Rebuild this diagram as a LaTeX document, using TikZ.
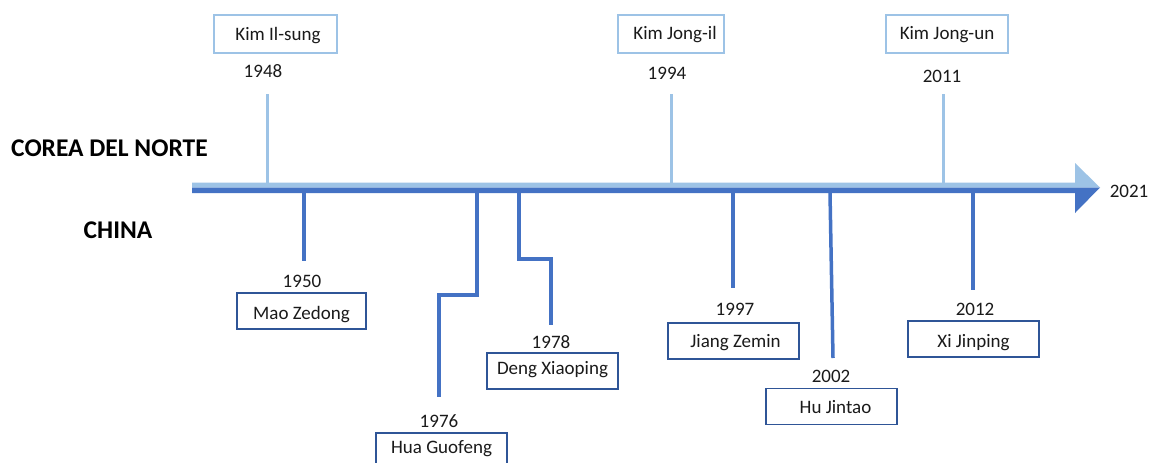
\documentclass[tikz,border=0pt]{standalone}
\usepackage{fontspec}
\setmainfont{Carlito}
\definecolor{lightb}{HTML}{9DC3E6}
\definecolor{darkb}{HTML}{4472C4}
\definecolor{boxb}{HTML}{2F5597}
\definecolor{txt}{HTML}{1A1A1A}
\begin{document}
\begin{tikzpicture}[x=1pt,y=-1pt,
  lbl/.style={inner sep=0pt,text=txt,font=\fontsize{19}{23}\selectfont},
  country/.style={inner sep=0pt,text=black,font=\fontsize{25.5}{30}\selectfont\bfseries},
  topbox/.style={draw=lightb,line width=1.8pt,minimum height=38pt,inner sep=0pt,text=txt,font=\fontsize{19}{23}\selectfont},
  botbox/.style={draw=boxb,line width=1.6pt,minimum width=130pt,minimum height=36pt,inner sep=0pt,text=txt,font=\fontsize{19}{23}\selectfont},
  bl/.style={text height=#1,text depth=0pt},
  lightstem/.style={draw=lightb,line width=3pt},
  darkstem/.style={draw=darkb,line width=3.5pt}]
\clip (0,0) rectangle (1151,463);
\fill[white] (0,0) rectangle (1151,463);
% main arrow
\fill[lightb] (192,182.5) -- (1075,182.5) -- (1075,163) -- (1100,187.5) -- (192,187.5) -- cycle;
\fill[darkb] (192,187.5) -- (1100,187.5) -- (1075,213) -- (1075,193) -- (192,193) -- cycle;
\node[lbl] (y2021) at (1129,191) {2021};
% country labels
\node[country,anchor=west] (kp) at (11,148.5) {COREA DEL NORTE};
\node[country] (cn) at (118,230) {CHINA};
% North Korea
\coordinate (a48) at (267,183); \coordinate (e48) at (267,94);
\coordinate (a94) at (671,183); \coordinate (e94) at (671,94);
\coordinate (a11) at (943,183); \coordinate (e11) at (943,94);
\draw[lightstem] (a48) -- (e48);
\draw[lightstem] (a94) -- (e94);
\draw[lightstem] (a11) -- (e11);
\node[topbox,bl=12pt,minimum width=123pt] (kis) at (275.5,34) {\hspace{5pt}Kim Il-sung};
\node[topbox,bl=10pt,minimum width=106pt] (kji) at (671,34) {\hspace{8pt}Kim Jong-il};
\node[topbox,bl=10pt,minimum width=122pt] (kju) at (947,34) {Kim Jong-un};
\node[lbl] (y48) at (263,71) {1948};
\node[lbl] (y94) at (667,73) {1994};
\node[lbl] (y11) at (942,76) {2011};
% China
\coordinate (a50) at (304,193); \coordinate (e50) at (304,261);
\coordinate (a76) at (477,193); \coordinate (e76) at (439,397);
\coordinate (a78) at (519,193); \coordinate (e78) at (551,325);
\coordinate (a97) at (733,193); \coordinate (e97) at (733,288);
\coordinate (a02) at (830,193); \coordinate (e02) at (833,358);
\coordinate (a12) at (973,193); \coordinate (e12) at (973,290);
\draw[darkstem] (a50) -- (e50);
\draw[darkstem] (a76) -- ++(0,102) -| (e76);
\draw[darkstem] (a78) -- ++(0,66) -| (e78);
\draw[darkstem] (a97) -- (e97);
\draw[darkstem] (a02) -- (e02);
\draw[darkstem] (a12) -- (e12);
\node[lbl] (y50) at (302,281) {1950};
\node[lbl] (y76) at (439,421) {1976};
\node[lbl] (y78) at (551,342) {1978};
\node[lbl] (y97) at (735,309) {1997};
\node[lbl] (y02) at (831,376) {2002};
\node[lbl] (y12) at (975,309) {2012};
\node[botbox,bl=17pt,minimum width=129pt] (mao) at (301.5,311) {Mao Zedong};
\node[botbox,bl=2pt,minimum width=131pt,minimum height=40pt,anchor=north] (hua) at (441.5,432) {Hua Guofeng};
\node[botbox,bl=6pt,minimum width=131pt] (deng) at (552.5,371) {Deng Xiaoping};
\node[botbox,bl=12pt,minimum width=131pt] (jiang) at (733.5,341) {\hspace{4pt}Jiang Zemin};
\node[botbox,bl=13pt,minimum width=131pt] (hu) at (831.5,406.5) {\hspace{8pt}Hu Jintao};
\node[botbox,bl=17pt,minimum width=131pt] (xi) at (973.5,339) {Xi Jinping};
\end{tikzpicture}
\end{document}
